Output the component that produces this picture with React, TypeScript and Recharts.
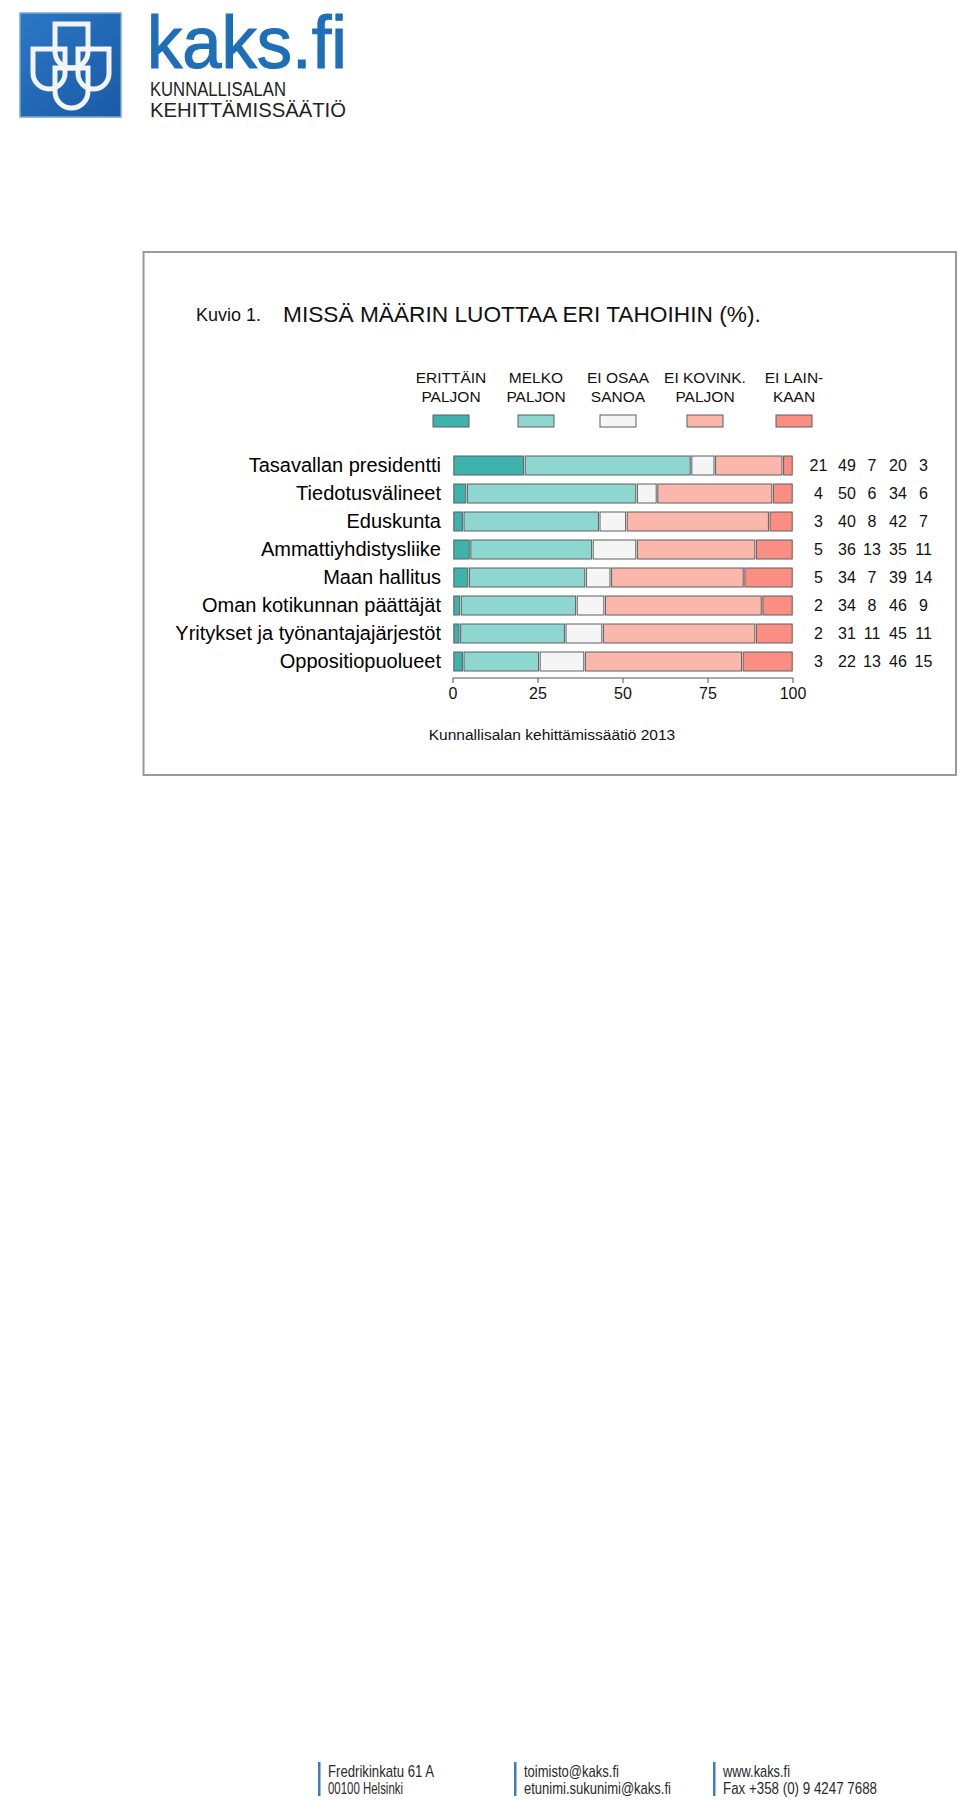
import React from 'react'
import { BarChart, Bar, XAxis, YAxis } from 'recharts'

// categories, top to bottom
const categories = [
  'Tasavallan presidentti',
  'Tiedotusvälineet',
  'Eduskunta',
  'Ammattiyhdistysliike',
  'Maan hallitus',
  'Oman kotikunnan päättäjät',
  'Yritykset ja työnantajajärjestöt',
  'Oppositiopuolueet'
]

// bar lengths (%) as read from the segments
const erittainPaljon = [21, 4, 3, 5, 4.6, 2.2, 2, 3]
const melkoPaljon = [49, 50, 40, 36, 34.4, 34.1, 31, 22.4]
const eiOsaaSanoa = [7, 6, 8, 13, 7.4, 8.3, 11, 13.3]
const eiKovinPaljon = [20, 34, 42, 35, 39.2, 46.3, 45, 46.4]
const eiLainkaan = [3, 6, 7, 11, 14.4, 9.1, 11, 14.9]

// rounded figures printed to the right of the bars
const shownErittain = [21, 4, 3, 5, 5, 2, 2, 3]
const shownMelko = [49, 50, 40, 36, 34, 34, 31, 22]
const shownEiOsaa = [7, 6, 8, 13, 7, 8, 11, 13]
const shownEiKovin = [20, 34, 42, 35, 39, 46, 45, 46]
const shownEiLainkaan = [3, 6, 7, 11, 14, 9, 11, 15]

const seriesKeys = ['erittain', 'melko', 'eiOsaa', 'eiKovin', 'eiLainkaan']
const legendLines = [
  ['ERITTÄIN', 'PALJON'],
  ['MELKO', 'PALJON'],
  ['EI OSAA', 'SANOA'],
  ['EI KOVINK.', 'PALJON'],
  ['EI LAIN-', 'KAAN']
]
const seriesColors = ['#3eb2ac', '#8ed6d0', '#f5f5f5', '#fcb7ac', '#fa8e82']
const xTicks = [0, 25, 50, 75, 100]

const data = categories.map((name, i) => ({
  name,
  erittain: erittainPaljon[i],
  melko: melkoPaljon[i],
  eiOsaa: eiOsaaSanoa[i],
  eiKovin: eiKovinPaljon[i],
  eiLainkaan: eiLainkaan[i]
}))
const shown = [shownErittain, shownMelko, shownEiOsaa, shownEiKovin, shownEiLainkaan]

const font = '"Liberation Sans", Arial, sans-serif'
const STROKE = '#5e5e5e'

function Segment (props: any) {
  const { x, y, width, height, fill } = props
  if (!width || width <= 0) return null
  return (
    <rect
      x={x + 0.8}
      y={y}
      width={Math.max(width - 1.6, 0.5)}
      height={height}
      fill={fill}
      stroke={STROKE}
      strokeWidth={1}
    />
  )
}

function ValueTick (props: any) {
  const { x, y, payload } = props
  const i = categories.indexOf(payload.value)
  const offsets = [25.5, 54, 79, 105, 130.5]
  return (
    <g>
      {shown.map((col, k) => (
        <text key={k} x={x + offsets[k]} y={y} dy="0.355em" textAnchor="middle"
          fontSize={16} fill="#111" fontFamily={font}>
          {col[i]}
        </text>
      ))}
    </g>
  )
}

function Logo () {
  const shield = (x0: number, x1: number, y0: number, y1: number) => {
    const r = (x1 - x0) / 2
    return `M ${x0} ${y0} H ${x1} V ${y1 - r} A ${r} ${r} 0 0 1 ${x0} ${y1 - r} Z`
  }
  return (
    <g>
      <defs>
        <linearGradient id="logoBlue" x1="0" y1="0" x2="1" y2="1">
          <stop offset="0" stopColor="#2b78c4" />
          <stop offset="1" stopColor="#1a5aa6" />
        </linearGradient>
      </defs>
      <rect x={20} y={13} width={101} height={104} fill="url(#logoBlue)" stroke="#7aa5d6" strokeWidth={1.5} />
      <g fill="none" stroke="#f2f4f8" strokeWidth={5}>
        <path d={shield(55, 88, 24, 68)} />
        <path d={shield(33, 65, 49, 89)} />
        <path d={shield(78, 109, 49, 89)} />
        <path d={shield(55, 88, 68, 108)} />
      </g>
      <text x={147} y={68} fontSize={75} fill="#1e6fb8" stroke="#1e6fb8" strokeWidth={1.2}
        fontFamily={font} textLength={200} lengthAdjust="spacingAndGlyphs">kaks.fi</text>
      <text x={150} y={96} fontSize={20} fill="#222" fontFamily={font}
        textLength={136} lengthAdjust="spacingAndGlyphs">KUNNALLISALAN</text>
      <text x={150} y={117} fontSize={20} fill="#222" fontFamily={font}
        textLength={196} lengthAdjust="spacingAndGlyphs">KEHITTÄMISSÄÄTIÖ</text>
    </g>
  )
}

function Footer () {
  const cols = [
    { x: 318, lines: ['Fredrikinkatu 61 A', '00100 Helsinki'], w: [106, 75] },
    { x: 514, lines: ['toimisto@kaks.fi', 'etunimi.sukunimi@kaks.fi'], w: [95, 147] },
    { x: 713, lines: ['www.kaks.fi', 'Fax +358 (0) 9 4247 7688'], w: [67, 154] }
  ]
  return (
    <g>
      {cols.map((c) => (
        <g key={c.x}>
          <rect x={c.x} y={1762} width={2.5} height={34} fill="#3d7cc0" />
          {c.lines.map((t, k) => (
            <text key={k} x={c.x + 10} y={1777 + k * 17} fontSize={17} fill="#2a2a2a"
              fontFamily={font} textLength={c.w[k]} lengthAdjust="spacingAndGlyphs">{t}</text>
          ))}
        </g>
      ))}
    </g>
  )
}

export default function App () {
  const legendX = [451, 536, 618, 705, 794]
  return (
    <div style={{ position: 'absolute', left: 0, top: 0, width: 960, height: 1803, background: '#fff', fontFamily: font }}>
      <svg width={960} height={1803} style={{ position: 'absolute', left: 0, top: 0 }}>
        <Logo />
        <rect x={143.5} y={252} width={812.5} height={523} fill="#fff" stroke="#999" strokeWidth={2} />
        <text x={196} y={321} fontSize={18} fill="#111" fontFamily={font}>Kuvio 1.</text>
        <text x={283} y={322} fontSize={22.7} fill="#111" fontFamily={font}>MISSÄ MÄÄRIN LUOTTAA ERI TAHOIHIN (%).</text>
        {legendLines.map((lines, k) => (
          <g key={k}>
            <text x={legendX[k]} y={383} fontSize={15.5} textAnchor="middle" fill="#111" fontFamily={font}>{lines[0]}</text>
            <text x={legendX[k]} y={402} fontSize={15.5} textAnchor="middle" fill="#111" fontFamily={font}>{lines[1]}</text>
            <rect x={legendX[k] - 18} y={415} width={36} height={12} fill={seriesColors[k]} stroke={STROKE} strokeWidth={1} />
          </g>
        ))}
        <text x={552} y={740} fontSize={15.5} textAnchor="middle" fill="#111" fontFamily={font}>Kunnallisalan kehittämissäätiö 2013</text>
        <Footer />
      </svg>
      <div style={{ position: 'absolute', left: 0, top: 0 }}>
        <BarChart
          width={960}
          height={760}
          data={data}
          layout="vertical"
          barSize={19}
          margin={{ top: 451, right: 0, bottom: 52, left: 0 }}
        >
          <XAxis
            type="number"
            domain={[0, 100]}
            ticks={xTicks}
            interval={0}
            height={30}
            tickSize={5}
            tickMargin={5}
            axisLine={{ stroke: '#555' }}
            tickLine={{ stroke: '#555' }}
            tick={{ fill: '#111', fontSize: 16, fontFamily: font }}
          />
          <YAxis
            yAxisId="left"
            type="category"
            dataKey="name"
            width={453}
            interval={0}
            axisLine={false}
            tickLine={false}
            tickSize={0}
            tickMargin={12}
            padding={{ top: 0, bottom: 3 }}
            tick={{ fill: '#000', fontSize: 20, fontFamily: font }}
          />
          <YAxis
            yAxisId="right"
            orientation="right"
            type="category"
            dataKey="name"
            width={167}
            interval={0}
            axisLine={false}
            tickLine={false}
            tickSize={0}
            tickMargin={0}
            padding={{ top: 0, bottom: 3 }}
            tick={<ValueTick />}
          />
          {seriesKeys.map((key, k) => (
            <Bar
              key={key}
              yAxisId="left"
              dataKey={key}
              stackId="a"
              fill={seriesColors[k]}
              shape={<Segment />}
              isAnimationActive={false}
            />
          ))}
        </BarChart>
      </div>
    </div>
  )
}
